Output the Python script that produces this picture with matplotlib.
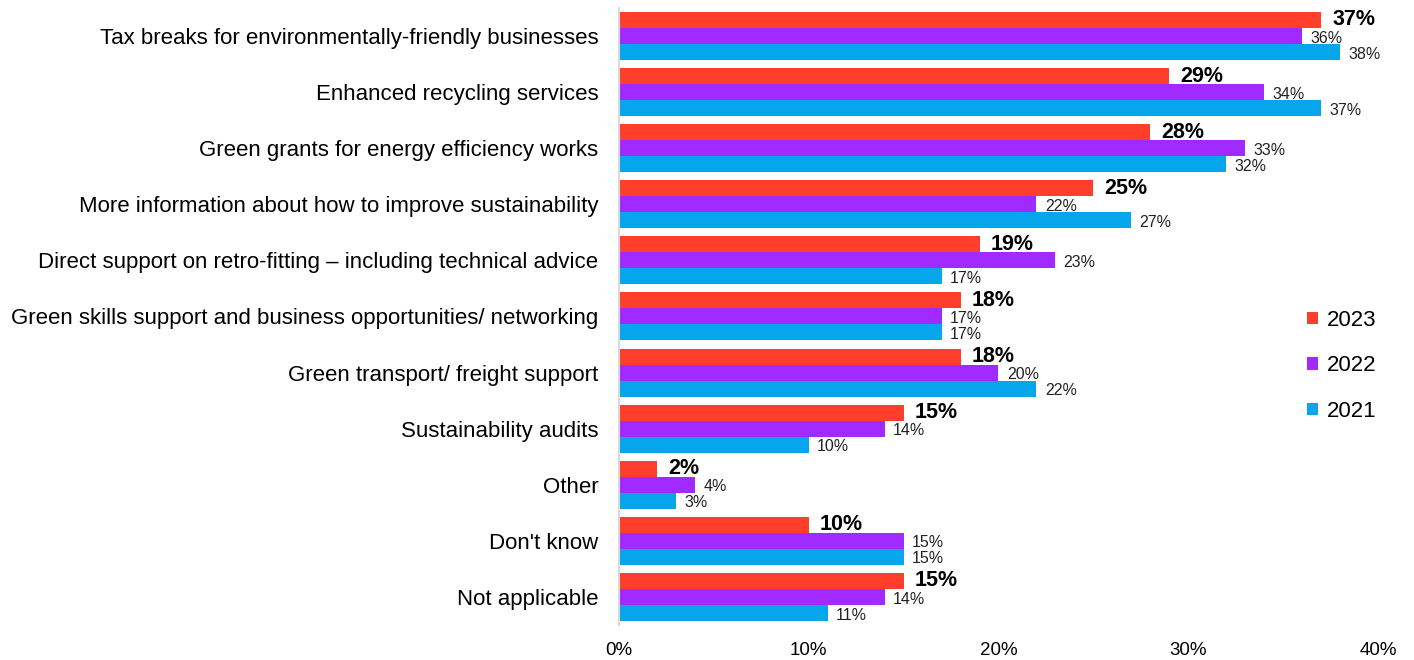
import numpy as np
import matplotlib.pyplot as plt

plt.rcParams['font.family'] = ['Liberation Sans', 'DejaVu Sans']

categories = [
    "Tax breaks for environmentally-friendly businesses",
    "Enhanced recycling services",
    "Green grants for energy efficiency works",
    "More information about how to improve sustainability",
    "Direct support on retro-fitting \u2013 including technical advice",
    "Green skills support and business opportunities/ networking",
    "Green transport/ freight support",
    "Sustainability audits",
    "Other",
    "Don't know",
    "Not applicable",
]
y2023 = [37, 29, 28, 25, 19, 18, 18, 15, 2, 10, 15]
y2022 = [36, 34, 33, 22, 23, 17, 20, 14, 4, 15, 14]
y2021 = [38, 37, 32, 27, 17, 17, 22, 10, 3, 15, 11]
xticks = [0, 10, 20, 30, 40]

red = '#FF3E2B'
purple = '#A02AFF'
blue = '#07A5EB'

fig = plt.figure(figsize=(14.14, 6.6), dpi=100)
ax = fig.add_axes([0.4378, 0.053, 0.5367, 0.935])

y = np.arange(len(categories))
h = 0.285
series = [(y2023, red, '2023', -h, True),
          (y2022, purple, '2022', 0, False),
          (y2021, blue, '2021', h, False)]

for vals, col, lab, off, bold in series:
    bars = ax.barh(y + off, vals, height=h, color=col, label=lab)
    for b, v in zip(bars, vals):
        yc = b.get_y() + b.get_height() / 2
        if bold:
            ax.annotate(f'{v}%', (v, yc), xytext=(8, 0),
                        textcoords='offset points', va='center', ha='left',
                        fontsize=15.5, fontweight='bold')
        else:
            ax.annotate(f'{v}%', (v, yc), xytext=(6, -1.5),
                        textcoords='offset points', va='center', ha='left',
                        fontsize=11.5, color='#222222')

ax.set_yticks(y)
ax.set_yticklabels(categories, fontsize=16)
ax.set_ylim(len(categories) - 0.5, -0.5)
ax.set_xlim(0, 40)
ax.set_xticks(xticks)
ax.set_xticklabels([f'{t}%' for t in xticks], fontsize=13.5)
ax.tick_params(axis='both', length=0)
ax.tick_params(axis='x', pad=12)
ax.tick_params(axis='y', pad=15)

for s in ['top', 'right', 'bottom']:
    ax.spines[s].set_visible(False)
ax.spines['left'].set_color('#d9d9d9')
ax.spines['left'].set_linewidth(1.5)

ax.legend(loc='center left', bbox_to_anchor=(0.88, 0.42), frameon=False,
          fontsize=16, handlelength=0.5, handleheight=0.5, handletextpad=0.4,
          labelspacing=1.1)

fig.savefig('out.png', dpi=100)
